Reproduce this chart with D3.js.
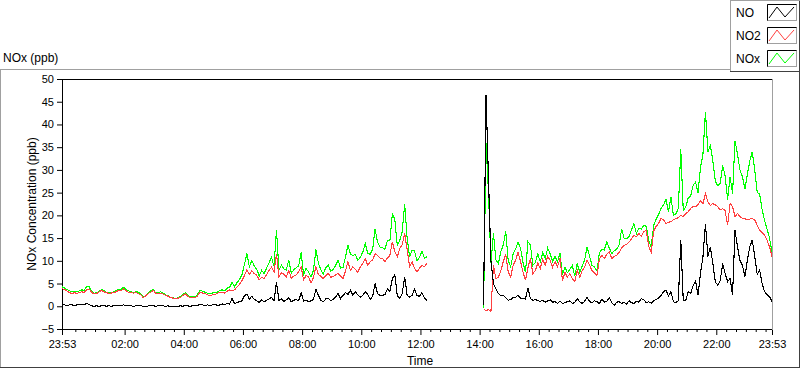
<!DOCTYPE html>
<html><head><meta charset="utf-8">
<script src="https://cdn.jsdelivr.net/npm/d3@7"></script>
<style>
body{margin:0;background:#fff;}
svg{display:block;font-family:"Liberation Sans",Arial,sans-serif;}
</style></head><body>
<svg id="chart" width="800" height="369"></svg>
<script>
// ---------------- DATA ----------------
const xStart = "2000-01-01T23:53";
const xEnd   = "2000-01-02T23:53";
const stepMinutes = 5;
const seg1Start = "2000-01-01T23:53";
const seg2Start = "2000-01-02T14:08";

const xMajorTicks = ["2000-01-01T23:53","2000-01-02T02:00","2000-01-02T04:00","2000-01-02T06:00",
  "2000-01-02T08:00","2000-01-02T10:00","2000-01-02T12:00","2000-01-02T14:00","2000-01-02T16:00",
  "2000-01-02T18:00","2000-01-02T20:00","2000-01-02T22:00","2000-01-02T23:53"];
const yTicks = [-5,0,5,10,15,20,25,30,35,40,45,50];
const seriesNames = ["NO","NO2","NOx"];
const seriesColors = ["#000000","#ff4040","#00ff00"];

const no_seg1 = [
0.3,0.3,0.2,0.3,0.3,0.2,0.3,0.3,0.3,0.4,
0.6,0.4,0.1,0.0,0.1,0.0,0.1,0.2,0.0,0.1,
0.0,0.1,0.2,0.1,0.2,0.3,0.1,0.2,0.1,0.0,
0.1,0.2,0.1,0.0,-0.1,0.1,0.2,0.1,0.0,0.1,
0.2,0.1,0.0,0.1,-0.1,0.0,-0.1,0.0,0.1,0.0,
0.2,0.1,0.0,0.1,0.1,0.2,0.4,0.3,0.2,0.3,
0.2,0.3,0.4,0.2,0.3,0.5,0.4,0.6,0.5,1.7,
0.6,0.8,1.0,1.2,2.3,2.7,1.6,2.2,1.5,1.2,
0.8,1.4,1.0,1.3,1.6,2.0,1.2,5.3,1.3,1.6,
1.1,1.4,1.9,1.0,1.3,1.5,1.2,3.0,1.1,1.4,
1.0,1.2,1.5,3.7,2.4,1.3,1.0,1.6,1.8,1.2,
1.5,2.0,2.8,1.7,2.4,3.0,2.6,3.5,2.4,3.2,
2.5,2.0,2.4,3.2,2.6,1.5,2.2,5.0,2.8,2.4,
2.4,2.6,3.8,3.2,6.1,7.0,2.4,1.7,2.8,6.5,
2.4,2.0,2.4,3.8,2.4,2.2,3.0,1.8,1.3];

const no2_seg1 = [
3.9,3.7,3.4,3.0,2.8,3.0,2.8,3.0,3.2,3.0,
3.6,3.8,3.1,2.7,2.8,3.1,3.5,3.2,3.0,2.8,
2.9,3.0,3.2,3.5,3.4,3.8,3.4,3.1,3.0,2.9,
3.0,2.8,2.5,1.9,2.3,2.8,3.1,3.5,2.9,2.8,
2.9,2.7,2.4,2.2,1.9,1.8,1.7,1.8,1.9,2.4,
2.7,2.2,1.9,2.0,1.9,2.3,3.1,2.9,2.8,2.5,
2.4,2.5,2.6,2.8,3.1,3.0,2.9,3.3,3.6,3.5,
3.6,4.3,4.8,5.6,6.8,8.0,7.0,7.8,7.2,6.8,
5.8,6.4,6.1,7.0,7.9,8.6,7.5,11.5,6.5,7.4,
7.0,6.5,7.9,6.2,6.6,6.9,7.6,8.7,5.8,6.8,
6.5,5.1,6.3,8.7,7.0,6.6,6.1,6.8,7.2,6.4,
6.5,6.9,7.2,6.6,6.1,7.8,9.8,7.9,8.7,8.1,
7.5,8.7,9.4,10.5,9.0,9.8,10.2,11.6,11.2,10.6,
10.5,9.8,10.6,11.2,14.2,12.0,10.9,12.7,13.5,16.0,
12.5,8.7,9.8,8.3,7.5,8.4,9.0,8.7,9.5];

const nox_seg1 = [
4.3,4.0,3.7,3.4,3.2,3.3,3.2,3.4,3.6,3.5,
4.3,4.3,3.3,2.8,3.0,3.2,3.7,3.5,3.1,3.0,
3.0,3.2,3.5,3.7,3.7,4.2,3.6,3.4,3.2,3.0,
3.2,3.1,2.7,2.0,2.3,3.0,3.4,3.7,3.0,3.0,
3.2,2.9,2.5,2.4,1.9,1.9,1.7,1.9,2.1,2.5,
3.0,2.4,2.0,2.2,2.1,2.6,3.6,3.3,3.1,2.9,
2.7,2.9,3.1,3.1,3.5,3.6,3.4,4.0,4.2,5.3,
4.3,5.2,5.9,6.9,9.2,11.6,8.7,10.1,8.8,8.1,
6.7,7.9,7.2,8.4,9.6,10.7,8.8,16.8,7.9,9.1,
8.2,8.0,10.2,7.3,8.0,8.5,8.9,11.9,7.0,8.3,
7.6,6.4,7.9,12.5,9.5,8.0,7.1,8.5,9.1,7.7,
8.1,9.0,10.1,8.4,8.6,10.9,13.4,11.5,11.2,11.4,
10.1,10.8,11.9,13.8,11.7,11.4,12.5,17.0,14.1,13.0,
12.9,12.5,14.5,14.4,20.3,19.1,13.4,14.5,16.4,22.4,
15.0,10.8,12.3,12.2,10.0,10.7,12.1,10.6,10.9];

const no_seg2 = [
0.2,46.5,28.0,10.0,5.0,3.9,2.8,2.3,2.4,1.9,
1.3,1.5,1.9,2.0,2.4,1.8,1.7,1.6,4.0,1.7,
1.3,1.5,1.2,1.1,1.3,0.9,1.2,1.4,0.9,1.0,
0.6,1.1,0.6,0.8,1.0,1.2,0.6,0.9,1.7,1.0,
0.6,1.1,2.0,1.0,0.8,1.2,1.0,0.6,1.6,0.9,
1.1,1.9,0.8,0.2,0.9,1.0,0.6,0.9,0.5,1.2,
0.8,0.6,1.1,0.9,1.7,1.4,0.8,1.0,0.7,1.2,
1.5,1.8,2.4,3.2,3.6,2.2,3.2,1.0,0.8,1.2,
14.6,1.3,1.2,3.2,2.8,4.5,5.5,2.4,7.4,10.9,
18.2,10.9,13.1,9.4,5.4,4.6,5.7,9.4,7.2,5.4,
6.1,2.4,16.7,13.1,10.1,9.0,6.5,10.1,13.1,14.6,
10.9,7.0,8.0,5.0,3.2,2.6,2.1,1.0];

const no2_seg2 = [
-0.5,-1.0,-0.7,-1.1,9.0,6.1,6.4,7.8,9.8,11.5,
7.6,6.4,9.0,10.1,11.9,9.8,7.5,5.7,8.5,10.5,
7.2,7.9,9.5,8.3,10.3,9.0,11.0,10.1,8.6,9.8,
8.7,10.5,5.6,7.5,6.4,7.2,6.1,5.4,7.9,6.4,
7.8,8.7,10.1,9.0,7.9,7.3,6.8,10.5,11.2,10.5,
11.5,11.9,10.5,11.0,11.2,11.9,12.8,13.4,13.6,14.1,
14.8,15.6,15.3,16.0,15.4,16.4,16.7,13.2,11.9,16.5,
17.6,18.2,19.3,19.0,18.2,18.5,18.6,19.0,19.3,19.5,
20.0,19.7,20.4,20.8,21.5,22.0,21.9,22.4,23.2,22.6,
24.8,23.0,22.2,22.6,22.3,21.9,21.2,21.5,21.0,17.8,
22.6,21.9,19.7,20.4,19.8,19.3,19.3,19.0,19.2,19.3,
19.0,17.8,16.7,16.2,15.6,14.5,13.1,10.9];

const nox_seg2 = [
-0.3,36.0,25.0,9.5,16.0,10.2,9.4,12.0,13.5,16.5,
10.0,8.7,11.5,12.6,14.1,12.8,9.6,7.5,14.2,13.5,
9.0,9.6,11.5,9.8,11.8,10.5,12.8,11.6,9.9,11.0,
9.8,11.7,7.0,8.6,7.4,8.1,9.0,6.6,9.4,7.5,
8.8,10.2,13.0,11.0,9.0,8.6,7.8,11.8,12.6,12.4,
14.2,12.8,11.6,12.2,12.6,13.5,17.0,15.0,14.9,15.3,
16.8,18.2,16.0,17.2,17.0,17.8,17.6,14.5,13.0,17.8,
19.2,20.2,21.5,22.3,23.5,20.8,24.1,20.0,20.3,21.5,
34.5,21.0,21.8,23.8,24.3,26.6,27.3,25.0,30.5,33.5,
42.8,34.0,35.3,32.0,27.5,26.5,27.0,31.0,28.6,23.5,
28.5,24.8,36.4,33.5,30.0,28.5,25.8,29.0,32.0,34.0,
30.0,25.0,24.7,21.2,18.8,17.0,15.0,11.9];

// ---------------- CHART ----------------
const parse = d3.timeParse("%Y-%m-%dT%H:%M");
const fmt = d3.timeFormat("%H:%M");
const svg = d3.select("#chart");
const FONT = "'Liberation Sans', Arial, sans-serif";
const P = {left:62, right:772, top:79, bottom:329};

const x = d3.scaleTime().domain([parse(xStart), parse(xEnd)]).range([P.left, P.right]);
const y = d3.scaleLinear().domain([-5, 50]).range([P.bottom, P.top]);

function toPoints(startStr, vals){
  const s = parse(startStr);
  return vals.map((v,i)=>({t:d3.timeMinute.offset(s, i*stepMinutes), v}));
}

// outer panel border
const g0 = svg.append("g");
g0.append("line").attr("x1",0).attr("x2",730).attr("y1",69.5).attr("y2",69.5).attr("stroke","#a0a0a0");
g0.append("line").attr("x1",0.5).attr("x2",0.5).attr("y1",69.5).attr("y2",368).attr("stroke","#a0a0a0");
g0.append("line").attr("x1",0).attr("x2",800).attr("y1",367.5).attr("y2",367.5).attr("stroke","#404040");
g0.append("line").attr("x1",799.5).attr("x2",799.5).attr("y1",0).attr("y2",368).attr("stroke","#404040");

// legend box
const lg = svg.append("g");
lg.append("line").attr("x1",730.5).attr("x2",730.5).attr("y1",0).attr("y2",72).attr("stroke","#a0a0a0");
lg.append("line").attr("x1",730).attr("x2",800).attr("y1",0.5).attr("y2",0.5).attr("stroke","#a0a0a0");
lg.append("line").attr("x1",730).attr("x2",800).attr("y1",71.5).attr("y2",71.5).attr("stroke","#404040");
seriesNames.forEach((n,k)=>{
  const by = [4,27,50][k];
  lg.append("text").attr("x",736).attr("y",by+13).attr("font-family",FONT).attr("font-size",12)
    .attr("fill","#000").text(n);
  const sw = lg.append("g").attr("transform",`translate(767,${by})`);
  sw.append("rect").attr("x",0.5).attr("y",0.5).attr("width",29).attr("height",16)
    .attr("fill","#fff").attr("stroke","#a0a0a0");
  sw.append("path").attr("d","M0.5,16.5V0.5H29.5").attr("fill","none").attr("stroke","#000");
  sw.append("polyline").attr("points","2,14 10,3 18,13 27,3").attr("fill","none")
    .attr("stroke",seriesColors[k]).attr("stroke-width",1);
});

// titles
svg.append("text").attr("x",3).attr("y",62).attr("font-family",FONT).attr("font-size",12)
  .attr("fill","#000").text("NOx (ppb)");
svg.append("text").attr("transform","translate(35.5,204) rotate(-90)").attr("text-anchor","middle")
  .attr("font-family",FONT).attr("font-size",12).attr("fill","#000").text("NOx Concentration (ppb)");
svg.append("text").attr("x",420).attr("y",365).attr("text-anchor","middle")
  .attr("font-family",FONT).attr("font-size",12).attr("fill","#000").text("Time");

// axes
const gy = svg.append("g").attr("transform",`translate(${P.left},0)`)
  .call(d3.axisLeft(y).tickValues(yTicks).tickSize(5).tickPadding(3).tickFormat(d3.format("d")));
gy.select(".domain").remove();
gy.attr("font-family",FONT).attr("font-size",11);
gy.selectAll("text").attr("fill","#000");

const minorTicks = d3.timeMinute.every(20).range(parse("2000-01-02T00:00"), parse(xEnd))
  .filter(d=>!(d.getMinutes()===0 && d.getHours()%2===0));
const gxm = svg.append("g").attr("transform",`translate(0,${P.bottom})`)
  .call(d3.axisBottom(x).tickValues(minorTicks).tickSize(3).tickFormat(""));
gxm.select(".domain").remove();

const gx = svg.append("g").attr("transform",`translate(0,${P.bottom})`)
  .call(d3.axisBottom(x).tickValues(xMajorTicks.map(parse)).tickSize(6).tickPadding(5).tickFormat(fmt));
gx.select(".domain").remove();
gx.attr("font-family",FONT).attr("font-size",11);
gx.selectAll("text").attr("fill","#000");

// plot frame
const fr = svg.append("g");
fr.append("line").attr("x1",P.left).attr("x2",P.right+1).attr("y1",P.top+0.5).attr("y2",P.top+0.5).attr("stroke","#000");
fr.append("line").attr("x1",P.right+0.5).attr("x2",P.right+0.5).attr("y1",P.top).attr("y2",P.bottom+1).attr("stroke","#a0a0a0");
fr.append("line").attr("x1",P.left+0.5).attr("x2",P.left+0.5).attr("y1",P.top).attr("y2",P.bottom+1).attr("stroke","#000");
fr.append("line").attr("x1",P.left).attr("x2",P.right).attr("y1",P.bottom+0.5).attr("y2",P.bottom+0.5).attr("stroke","#000");

// series
const line = d3.line().x(d=>x(d.t)).y(d=>y(d.v));
const series = [
  {c:seriesColors[2], segs:[toPoints(seg1Start,nox_seg1), toPoints(seg2Start,nox_seg2)]},
  {c:seriesColors[1], segs:[toPoints(seg1Start,no2_seg1), toPoints(seg2Start,no2_seg2)]},
  {c:seriesColors[0], segs:[toPoints(seg1Start,no_seg1), toPoints(seg2Start,no_seg2)]}
];
const gl = svg.append("g");
series.forEach(s=>{
  s.segs.forEach(seg=>{
    gl.append("path").datum(seg).attr("d",line).attr("fill","none")
      .attr("stroke",s.c).attr("stroke-width",1.1).attr("shape-rendering","crispEdges");
  });
});
</script>
</body></html>
